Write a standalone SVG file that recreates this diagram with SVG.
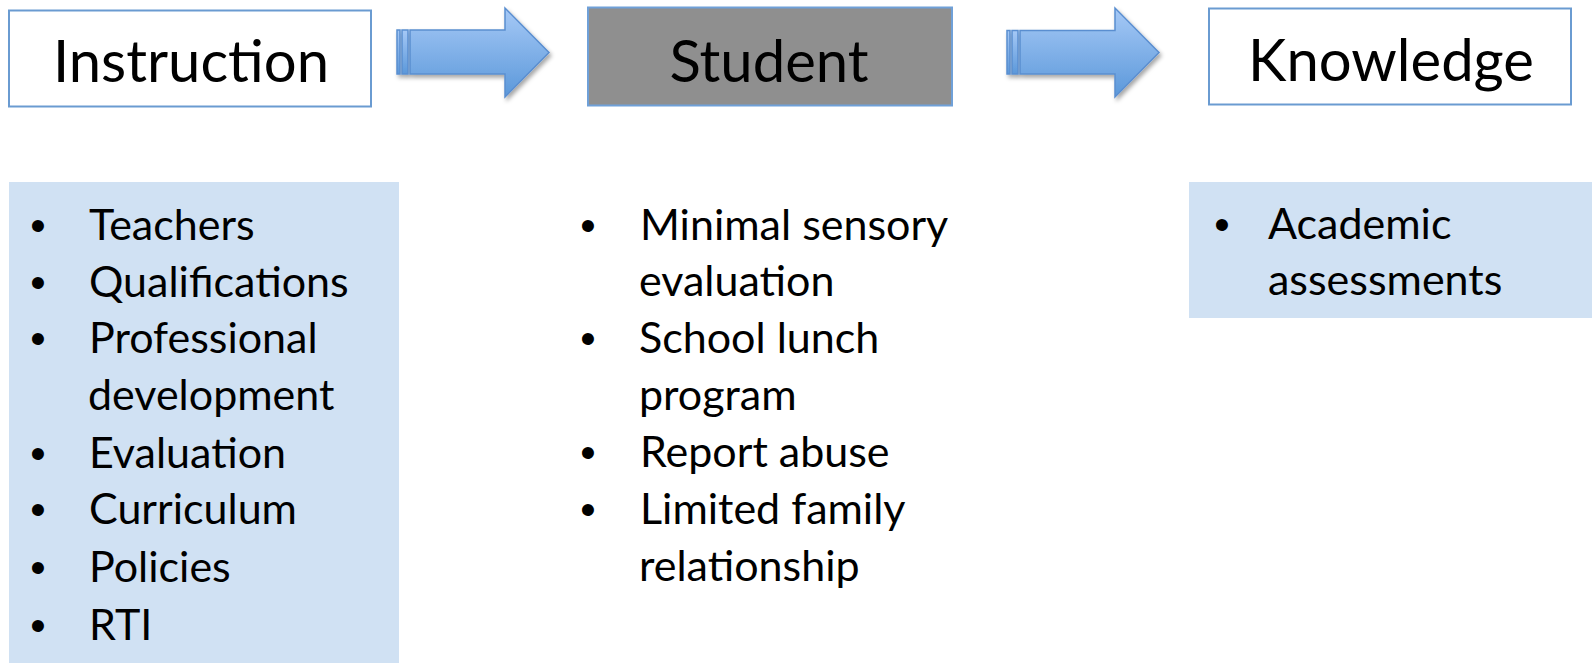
<svg xmlns="http://www.w3.org/2000/svg" width="1592" height="663" viewBox="0 0 1592 663">
<defs>
<linearGradient id="arrowGrad" x1="0" y1="0" x2="0" y2="1">
<stop offset="0" stop-color="#a6c9f6"/>
<stop offset="1" stop-color="#5b98da"/>
</linearGradient>
<filter id="shadow" x="-20%" y="-20%" width="150%" height="160%">
<feDropShadow dx="2" dy="3" stdDeviation="2" flood-color="#000" flood-opacity="0.35"/>
</filter>
<style>
.hdr{fill:#fff;stroke:#6a9bd1;stroke-width:2}
.hdrtxt{font-family:Lato,"Open Sans",sans-serif;font-size:58px;fill:#000;text-anchor:middle}
.list{fill:#d0e1f3}
.item{font-family:Lato,"Open Sans",sans-serif;font-size:43px;fill:#000}
.bul{font-family:"Liberation Sans",Arial,sans-serif;font-size:44px;fill:#000;text-anchor:middle}
.arrow{fill:url(#arrowGrad);stroke:#5a8ed0;stroke-width:1.5}
</style>
</defs>
<rect width="1592" height="663" fill="#fff"/>

<g id="node-instruction">
<rect class="hdr" x="9" y="10.5" width="362" height="96"/>
<text class="hdrtxt" x="191" y="82">Instruction</text>
</g>

<g id="node-student">
<rect x="588" y="7.5" width="364" height="98" fill="#8f8f8f" stroke="#6fa0d8" stroke-width="2"/>
<text class="hdrtxt" x="769" y="82">Student</text>
</g>

<g id="node-knowledge">
<rect class="hdr" x="1209" y="8.5" width="362" height="96"/>
<text class="hdrtxt" x="1391" y="81">Knowledge</text>
</g>

<g id="connectors">
<g filter="url(#shadow)">
<rect class="arrow" x="397" y="30" width="3" height="44"/>
<rect class="arrow" x="402" y="30" width="6" height="44"/>
<path class="arrow" d="M410,30 H505 V8 L549,52.5 L505,97 V74 H410 Z"/>
</g>
<g filter="url(#shadow)">
<rect class="arrow" x="1007" y="30.5" width="3" height="43.5"/>
<rect class="arrow" x="1012" y="30.5" width="6" height="43.5"/>
<path class="arrow" d="M1020,30.5 H1115 V8 L1159,52.5 L1115,97 V74 H1020 Z"/>
</g>
</g>

<g id="node-instruction-list">
<rect class="list" x="9" y="182" width="390" height="481"/>
<text class="bul" x="38" y="241">•</text>
<text class="item" x="89" y="240">Teachers</text>
<text class="bul" x="38" y="298">•</text>
<text class="item" x="89" y="297">Qualifications</text>
<text class="bul" x="38" y="354">•</text>
<text class="item" x="89" y="353">Professional</text>
<text class="item" x="88" y="410">development</text>
<text class="bul" x="38" y="469">•</text>
<text class="item" x="89" y="468">Evaluation</text>
<text class="bul" x="38" y="525">•</text>
<text class="item" x="89" y="524">Curriculum</text>
<text class="bul" x="38" y="583">•</text>
<text class="item" x="89" y="582">Policies</text>
<text class="bul" x="38" y="641">•</text>
<text class="item" x="89" y="640">RTI</text>
</g>

<g id="node-student-list">
<text class="bul" x="588" y="241">•</text>
<text class="item" x="640" y="240">Minimal sensory</text>
<text class="item" x="639" y="296">evaluation</text>
<text class="bul" x="588" y="354">•</text>
<text class="item" x="639" y="353">School lunch</text>
<text class="item" x="639" y="410">program</text>
<text class="bul" x="588" y="468">•</text>
<text class="item" x="640" y="467">Report abuse</text>
<text class="bul" x="588" y="525">•</text>
<text class="item" x="640" y="524">Limited family</text>
<text class="item" x="639" y="581">relationship</text>
</g>

<g id="node-knowledge-list">
<rect class="list" x="1189" y="182" width="403" height="136"/>
<text class="bul" x="1222" y="240">•</text>
<text class="item" x="1268" y="239">Academic</text>
<text class="item" x="1268" y="295">assessments</text>
</g>
</svg>
